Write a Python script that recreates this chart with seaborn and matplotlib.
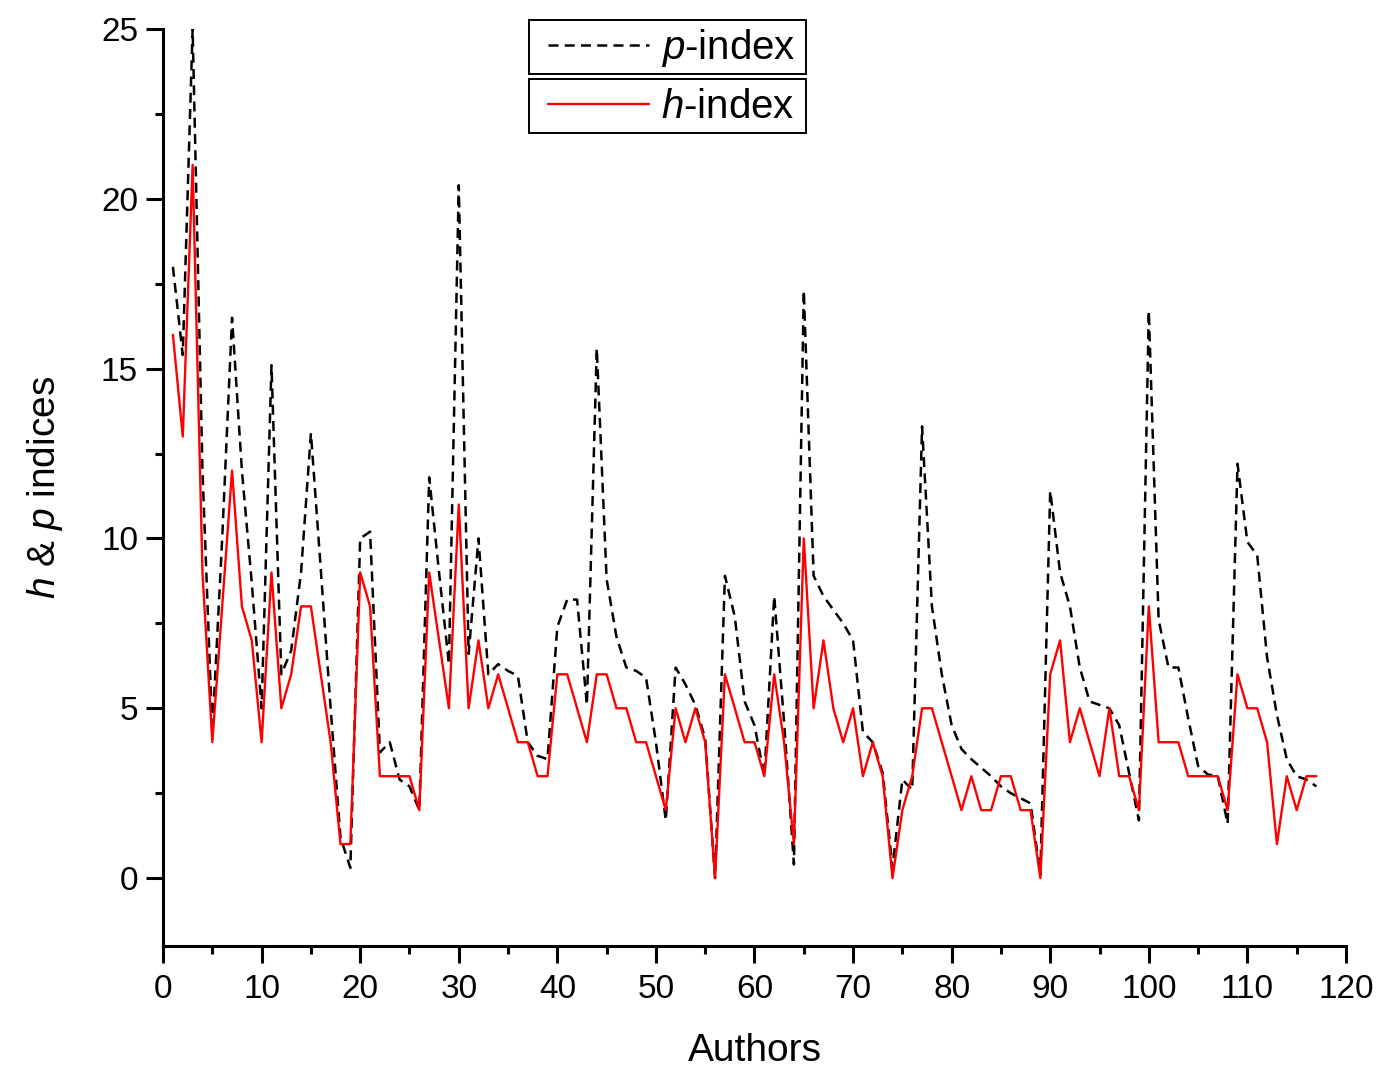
import numpy as np
import pandas as pd
import matplotlib
matplotlib.use("Agg")
import matplotlib.pyplot as plt
import seaborn as sns
from matplotlib.ticker import MultipleLocator
from matplotlib.lines import Line2D
from matplotlib.patches import Rectangle

# values (authors 1..117)
h_index = [16, 13, 21, 9, 4, 8, 12, 8, 7, 4,
           9, 5, 6, 8, 8, 6, 4, 1, 1, 9,
           8, 3, 3, 3, 3, 2, 9, 7, 5, 11,
           5, 7, 5, 6, 5, 4, 4, 3, 3, 6,
           6, 5, 4, 6, 6, 5, 5, 4, 4, 3,
           2, 5, 4, 5, 4, 0, 6, 5, 4, 4,
           3, 6, 4, 1, 10, 5, 7, 5, 4, 5,
           3, 4, 3, 0, 2, 3, 5, 5, 4, 3,
           2, 3, 2, 2, 3, 3, 2, 2, 0, 6,
           7, 4, 5, 4, 3, 5, 3, 3, 2, 8,
           4, 4, 4, 3, 3, 3, 3, 2, 6, 5,
           5, 4, 1, 3, 2, 3, 3]

p_index = [18, 15.4, 25, 12, 4.3, 10, 16.5, 12, 8.7, 5,
           15.1, 6, 6.7, 9, 13.1, 9.1, 5, 1.2, 0.3, 10,
           10.2, 3.7, 4, 2.9, 2.7, 2, 11.8, 9, 6.3, 20.4,
           6.6, 10, 6, 6.3, 6.1, 5.95, 4, 3.6, 3.5, 7.4,
           8.2, 8.2, 5.1, 15.6, 8.8, 7.1, 6.2, 6.1, 5.9, 4,
           1.7, 6.2, 5.7, 5.1, 4.1, 0, 8.9, 7.7, 5.2, 4.5,
           3, 8.3, 4.6, 0.4, 17.3, 8.9, 8.3, 7.9, 7.5, 7,
           4.3, 4, 3.1, 0.3, 2.9, 2.6, 13.3, 8, 6, 4.5,
           3.8, 3.5, 3.25, 3, 2.7, 2.5, 2.35, 2.2, 0.1, 11.4,
           9, 8, 6.2, 5.2, 5.1, 5, 4.5, 3.1, 1.7, 16.7,
           7.6, 6.2, 6.2, 4.7, 3.3, 3.05, 3, 1.6, 12.2, 9.9,
           9.5, 6.5, 4.8, 3.5, 3, 2.9, 2.7]

authors = np.arange(1, len(h_index) + 1)

sns.set_style("ticks", rc={'axes.edgecolor': 'black', 'xtick.color': 'black',
                           'ytick.color': 'black', 'text.color': 'black',
                           'axes.labelcolor': 'black'})
plt.rcParams['font.family'] = ['Liberation Sans', 'DejaVu Sans']
plt.rcParams['mathtext.fontset'] = 'custom'
plt.rcParams['mathtext.it'] = 'Liberation Sans:italic'
plt.rcParams['mathtext.rm'] = 'Liberation Sans'

df = pd.DataFrame({'Authors': authors, 'p': p_index, 'h': h_index})

DASH = (0, (4, 2.5))

fig = plt.figure(figsize=(13.9, 10.67), dpi=100)
ax = fig.add_axes([0.1173, 0.1134, 0.8510, 0.8594])

sns.lineplot(data=df, x='Authors', y='p', ax=ax, color='black',
             linestyle=DASH, linewidth=1.8)
sns.lineplot(data=df, x='Authors', y='h', ax=ax, color='#ff0000',
             linewidth=1.7)

ax.set_xlim(0, 120)
ax.set_ylim(-2, 25)
ax.xaxis.set_major_locator(MultipleLocator(10))
ax.xaxis.set_minor_locator(MultipleLocator(5))
ax.yaxis.set_major_locator(MultipleLocator(5))
ax.yaxis.set_minor_locator(MultipleLocator(2.5))
ax.tick_params(which='major', direction='out', length=12, width=2.2,
               labelsize=24)
ax.tick_params(axis='x', which='major', pad=8)
ax.tick_params(axis='y', which='major', pad=6)
ax.tick_params(which='minor', direction='out', length=6, width=2.2)
for s in ['left', 'bottom']:
    ax.spines[s].set_linewidth(2.2)
sns.despine(ax=ax)

ax.set_xlabel('Authors', fontsize=28, labelpad=20)
ax.set_ylabel('$h$ & $p$ indices', fontsize=28, labelpad=26)

# two stacked boxed legend entries like the original
W, H = 1390.0, 1067.0
for top in (20, 79):
    fig.patches.append(Rectangle((529 / W, 1 - (top + 54) / H), 277 / W, 54 / H,
                                 transform=fig.transFigure, fill=False,
                                 edgecolor='black', linewidth=1.4))

common = dict(frameon=False, fontsize=29, handlelength=2.5, borderpad=0,
              borderaxespad=0, handletextpad=0.3, loc='center left',
              bbox_transform=fig.transFigure)
h1 = [Line2D([], [], color='black', linestyle=DASH, linewidth=1.8)]
h2 = [Line2D([], [], color='#ff0000', linewidth=1.7)]
leg1 = ax.legend(h1, ['$p$-index'], bbox_to_anchor=(548 / W, 1 - 48 / H), **common)
ax.add_artist(leg1)
leg2 = ax.legend(h2, ['$h$-index'], bbox_to_anchor=(548 / W, 1 - 107 / H), **common)

fig.savefig('out.png', dpi=100)
